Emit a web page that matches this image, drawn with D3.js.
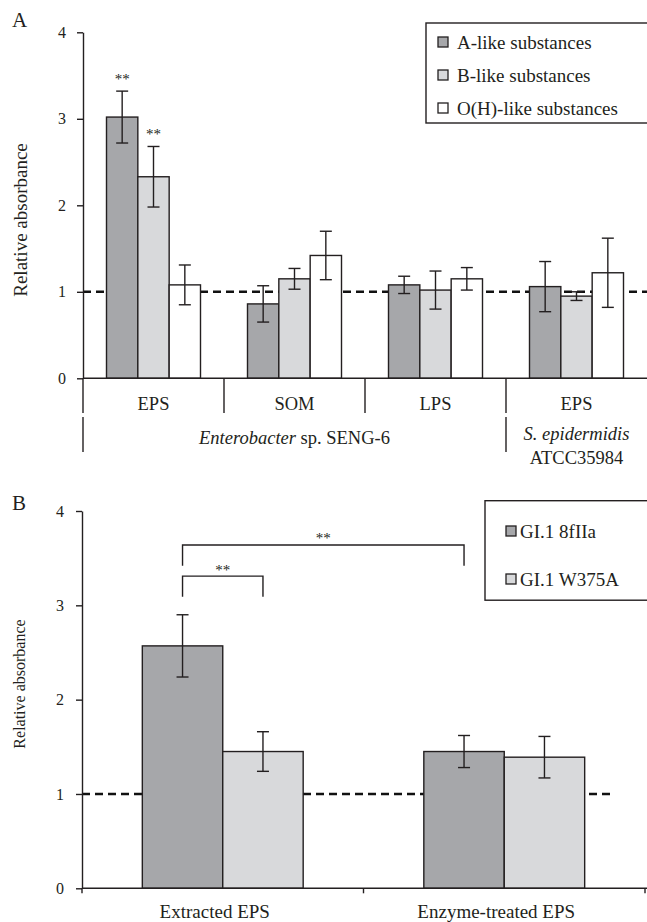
<!DOCTYPE html>
<html>
<head>
<meta charset="utf-8">
<script src="https://cdnjs.cloudflare.com/ajax/libs/d3/7.8.5/d3.min.js"></script>
<style>
	body { margin: 0; background: #fff; }
	svg { display: block; font-family: "Liberation Serif", "Times New Roman", serif; }
</style>
</head>
<body>
<svg id="chart" width="647" height="922"></svg>
<script>
// panel A
var seriesA = ['A-like substances', 'B-like substances', 'O(H)-like substances'];
var samplesA = ['EPS', 'SOM', 'LPS', 'EPS'];
var strainsA = ['Enterobacter', 'S. epidermidis'];
var strainSpanA = [3, 1];
var aLike = [3.02, 0.86, 1.08, 1.06];
var aLikeErr = [0.30, 0.21, 0.10, 0.29];
var bLike = [2.33, 1.15, 1.02, 0.95];
var bLikeErr = [0.35, 0.12, 0.22, 0.05];
var ohLike = [1.08, 1.42, 1.15, 1.22];
var ohLikeErr = [0.23, 0.28, 0.13, 0.40];
var sigGroupA = [0, 0];
var sigSeriesA = [0, 1];
var ticksA = [0, 1, 2, 3, 4];

// panel B
var seriesB = ['GI.1 8fIIa', 'GI.1 W375A'];
var samplesB = ['Extracted EPS', 'Enzyme-treated EPS'];
var gi8fIIa = [2.57, 1.45];
var gi8fIIaErr = [0.33, 0.17];
var giW375A = [1.45, 1.39];
var giW375AErr = [0.21, 0.22];
var bracketFrom = [[0, 0], [0, 0]];
var bracketTo = [[0, 1], [1, 0]];
var bracketTop = [3.31, 3.64];
var bracketLeg = [3.09, 3.42];
var ticksB = [0, 1, 2, 3, 4];

(function() {

	var INK = '#231f20';
	var FILLS = ['#a6a7aa', '#d8d9db', '#ffffff'];
	var svg = d3.select('#chart');

	function valuesTable(vals, errs) {
		// rows = groups, cols = series
		return vals[0].map(function(_, g) {
			return vals.map(function(v, s) { return {g: g, s: s, v: v[g], e: errs[s][g]}; });
		});
	}

	function drawBars(layer, table, x0, x1, y) {
		var groups = layer.selectAll('g.grp').data(table).enter().append('g')
			.attr('class', 'grp')
			.attr('transform', function(d, i) { return 'translate(' + x0(i) + ',0)'; });
		groups.selectAll('rect').data(function(d) { return d; }).enter().append('rect')
			.attr('x', function(d) { return x1(d.s); })
			.attr('y', function(d) { return y(d.v); })
			.attr('width', x1.bandwidth())
			.attr('height', function(d) { return y(0) - y(d.v); })
			.attr('fill', function(d) { return FILLS[d.s]; })
			.attr('stroke', INK).attr('stroke-width', 1.4);
		var err = groups.selectAll('g.err').data(function(d) { return d; }).enter().append('g')
			.attr('class', 'err')
			.attr('stroke', INK).attr('stroke-width', 1.4);
		err.append('line')
			.attr('x1', function(d) { return x1(d.s) + x1.bandwidth() / 2; })
			.attr('x2', function(d) { return x1(d.s) + x1.bandwidth() / 2; })
			.attr('y1', function(d) { return y(d.v + d.e); })
			.attr('y2', function(d) { return y(d.v - d.e); });
		[1, -1].forEach(function(sign) {
			err.append('line')
				.attr('x1', function(d) { return x1(d.s) + x1.bandwidth() / 2 - 6; })
				.attr('x2', function(d) { return x1(d.s) + x1.bandwidth() / 2 + 6; })
				.attr('y1', function(d) { return y(d.v + sign * d.e); })
				.attr('y2', function(d) { return y(d.v + sign * d.e); });
		});
	}

	function drawYAxis(y, x, ticks, pad) {
		var g = svg.append('g').attr('transform', 'translate(' + x + ',0)')
			.call(d3.axisLeft(y).tickValues(ticks).tickFormat(d3.format('d')).tickSize(6).tickSizeOuter(0).tickPadding(pad));
		g.attr('font-family', null).attr('font-size', null);
		g.selectAll('path, line').attr('stroke', INK).attr('stroke-width', 1.4);
		g.selectAll('text').attr('fill', INK).style('font-size', '16px');
		return g;
	}

	function dashed(y, v, xa, xb) {
		svg.append('line')
			.attr('x1', xa).attr('x2', xb)
			.attr('y1', y(v)).attr('y2', y(v))
			.attr('stroke', '#111').attr('stroke-width', 2.4)
			.attr('stroke-dasharray', '8,5');
	}

	function vline(x, ya, yb) {
		svg.append('line').attr('x1', x).attr('x2', x).attr('y1', ya).attr('y2', yb)
			.attr('stroke', INK).attr('stroke-width', 1.4);
	}

	function legend(names, x, y, w, h, sx, tx, rows) {
		svg.append('rect').attr('x', x).attr('y', y).attr('width', w).attr('height', h)
			.attr('fill', '#fff').attr('stroke', INK).attr('stroke-width', 1.4);
		var item = svg.selectAll(null).data(names).enter().append('g')
			.attr('transform', function(d, i) { return 'translate(0,' + rows[i] + ')'; });
		item.append('rect').attr('x', sx).attr('y', -5).attr('width', 10).attr('height', 10)
			.attr('fill', function(d, i) { return FILLS[i]; })
			.attr('stroke', INK).attr('stroke-width', 1.3);
		item.append('text').attr('x', tx).attr('y', 6.5)
			.attr('fill', INK).style('font-size', '19px')
			.text(function(d) { return d; });
	}

	// ---------- panel A ----------
	var xA = d3.scaleBand().domain(d3.range(samplesA.length)).range([83, 647]);
	var x1A = d3.scaleBand().domain(d3.range(seriesA.length)).range([0, xA.bandwidth()]).paddingOuter(0.75);
	var yA = d3.scaleLinear().domain([0, 4]).range([378.3, 32.3]);

	svg.append('text').attr('x', 12).attr('y', 27).attr('fill', INK).style('font-size', '21px').text('A');
	svg.append('text')
		.attr('transform', 'translate(27,220) rotate(-90)')
		.attr('text-anchor', 'middle').attr('fill', INK).style('font-size', '19px')
		.text('Relative absorbance');

	dashed(yA, 1, 83, 647);
	drawBars(svg.append('g'), valuesTable([aLike, bLike, ohLike], [aLikeErr, bLikeErr, ohLikeErr]), xA, x1A, yA);
	drawYAxis(yA, 83, ticksA, 11);

	svg.append('line').attr('x1', 83).attr('x2', 647).attr('y1', yA(0)).attr('y2', yA(0))
		.attr('stroke', INK).attr('stroke-width', 1.4);

	var allA = [aLike, bLike, ohLike];
	var allAErr = [aLikeErr, bLikeErr, ohLikeErr];
	sigGroupA.forEach(function(g, i) {
		var s = sigSeriesA[i];
		svg.append('text')
			.attr('x', xA(g) + x1A(s) + x1A.bandwidth() / 2)
			.attr('y', yA(allA[s][g] + allAErr[s][g]) - 7)
			.attr('text-anchor', 'middle').attr('fill', INK).style('font-size', '15px')
			.text('**');
	});

	// category separators, first level
	samplesA.forEach(function(name, i) {
		vline(xA(i), yA(0), 413);
		svg.append('text')
			.attr('x', xA(i) + xA.bandwidth() / 2).attr('y', 409.6)
			.attr('text-anchor', 'middle').attr('fill', INK).style('font-size', '18.5px')
			.text(name);
	});

	// strain level
	var start = 0;
	strainsA.forEach(function(name, i) {
		var xa = xA(start);
		var end = start + strainSpanA[i];
		var xb = end < samplesA.length ? xA(end) : xA.range()[1];
		vline(xa, 417, 452);
		var cx = (xa + xb) / 2;
		if (i == 0) {
			var t = svg.append('text').attr('x', cx).attr('y', 444)
				.attr('text-anchor', 'middle').attr('fill', INK).style('font-size', '18.5px');
			t.append('tspan').style('font-style', 'italic').text(name);
			t.append('tspan').text(' sp. SENG-6');
		} else {
			svg.append('text').attr('x', cx).attr('y', 439.5)
				.attr('text-anchor', 'middle').attr('fill', INK).style('font-size', '18.5px')
				.style('font-style', 'italic').text(name);
			svg.append('text').attr('x', cx).attr('y', 463.5)
				.attr('text-anchor', 'middle').attr('fill', INK).style('font-size', '18.5px')
				.text('ATCC35984');
		}
		start = end;
	});

	legend(seriesA, 426, 23, 240, 100, 438, 457, [42, 75, 108]);

	// ---------- panel B ----------
	var xB = d3.scaleBand().domain(d3.range(samplesB.length)).range([82, 645]);
	var x1B = d3.scaleBand().domain(d3.range(seriesB.length)).range([0, xB.bandwidth()]).paddingOuter(0.75);
	var yB = d3.scaleLinear().domain([0, 4]).range([888.3, 511]);

	svg.append('text').attr('x', 12).attr('y', 510).attr('fill', INK).style('font-size', '21px').text('B');
	svg.append('text')
		.attr('transform', 'translate(25,684) rotate(-90)')
		.attr('text-anchor', 'middle').attr('fill', INK).style('font-size', '16px')
		.text('Relative absorbance');

	dashed(yB, 1, 82, 613);
	drawBars(svg.append('g'), valuesTable([gi8fIIa, giW375A], [gi8fIIaErr, giW375AErr]), xB, x1B, yB);
	drawYAxis(yB, 82, ticksB, 12);

	svg.append('line').attr('x1', 82).attr('x2', 647).attr('y1', yB(0)).attr('y2', yB(0))
		.attr('stroke', INK).attr('stroke-width', 1.4);
	d3.range(samplesB.length + 1).forEach(function(i) {
		var x = i < samplesB.length ? xB(i) : xB.range()[1];
		vline(x, yB(0), yB(0) + 5);
	});
	samplesB.forEach(function(name, i) {
		svg.append('text')
			.attr('x', xB(i) + xB.bandwidth() / 2 - 8).attr('y', 918)
			.attr('text-anchor', 'middle').attr('fill', INK).style('font-size', '19px')
			.text(name);
	});

	function barCenter(p) { return xB(p[0]) + x1B(p[1]) + x1B.bandwidth() / 2; }
	bracketFrom.forEach(function(p, i) {
		var xa = barCenter(p), xb = barCenter(bracketTo[i]);
		var top = yB(bracketTop[i]), leg = yB(bracketLeg[i]);
		svg.append('path')
			.attr('d', 'M' + xa + ',' + leg + 'V' + top + 'H' + xb + 'V' + leg)
			.attr('fill', 'none').attr('stroke', INK).attr('stroke-width', 1.4);
		svg.append('text')
			.attr('x', (xa + xb) / 2).attr('y', top - 1.5)
			.attr('text-anchor', 'middle').attr('fill', INK).style('font-size', '15px')
			.text('**');
	});

	legend(seriesB, 485, 500.7, 200, 99.5, 506, 520, [531, 579]);

}());
</script>
</body>
</html>
